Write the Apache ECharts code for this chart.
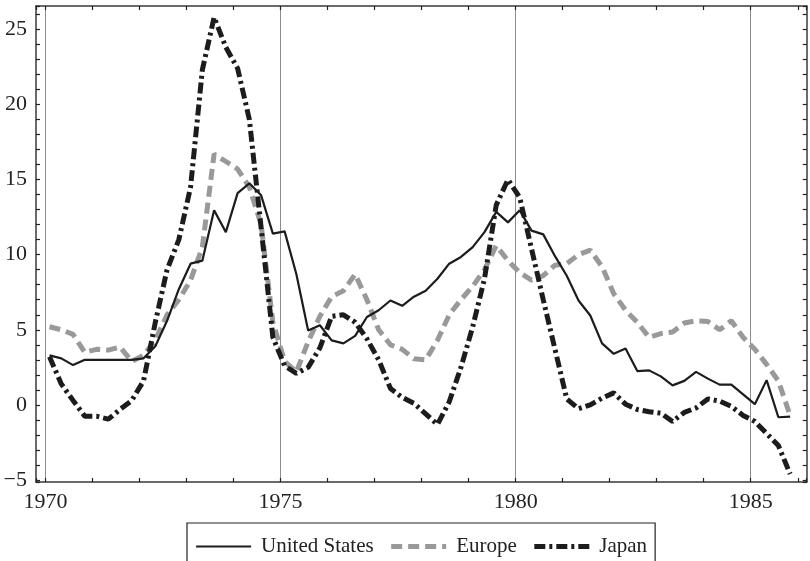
<!DOCTYPE html>
<html><head><meta charset="utf-8">
<script src="https://cdn.jsdelivr.net/npm/echarts@6/dist/echarts.min.js"></script>
<style>html,body{margin:0;padding:0;background:#fff}#c{width:810px;height:561px}</style>
</head><body><div id="c"></div>
<script>
// Quarterly data, 1970Q1 .. 1985Q4
const firstYear = 1970;
const quarterOffset = 0.35; // position of each quarterly observation within its quarter
const seriesNames = ['United States', 'Europe', 'Japan'];
const xTickLabels = [1970, 1975, 1980, 1985];
const yTickLabels = [-5, 0, 5, 10, 15, 20, 25];

const unitedStates = [
  3.3, 3.1, 2.65, 3.0, 3.0, 3.0, 3.0, 3.0, 3.1, 3.9,
  5.6, 7.7, 9.4, 9.6, 12.95, 11.5, 14.1, 14.75, 13.95, 11.4,
  11.55, 8.7, 4.95, 5.3, 4.3, 4.1, 4.6, 5.85, 6.3, 6.95,
  6.6, 7.2, 7.6, 8.4, 9.4, 9.85, 10.5, 11.5, 12.85, 12.15,
  12.95, 11.6, 11.35, 9.9, 8.6, 6.95, 5.95, 4.1, 3.4, 3.75,
  2.25, 2.3, 1.9, 1.3, 1.6, 2.2, 1.75, 1.35, 1.35, 0.7,
  0.05, 1.65, -0.82, -0.78
];
const europe = [
  5.2, 5.0, 4.7, 3.5, 3.7, 3.65, 3.85, 2.9, 3.3, 4.3,
  6.0, 7.0, 8.3, 10.5, 16.7, 16.2, 15.7, 14.5, 12.0, 5.5,
  2.9, 2.2, 4.2, 5.9, 7.2, 7.6, 8.7, 7.0, 5.0, 4.0,
  3.7, 3.07, 3.0, 4.3, 6.0, 7.0, 7.9, 9.0, 10.6, 9.6,
  8.8, 8.3, 8.6, 9.3, 9.4, 10.0, 10.3, 9.2, 7.4, 6.3,
  5.5, 4.5, 4.75, 4.85, 5.45, 5.6, 5.55, 5.0, 5.6, 4.5,
  3.7, 2.7, 1.6, -0.7
];
const japan = [
  3.2, 1.4, 0.3, -0.75, -0.75, -0.95, -0.3, 0.3, 1.6, 5.5,
  9.0, 11.0, 14.5, 22.3, 25.8, 23.8, 22.4, 19.0, 11.8, 4.5,
  2.6, 2.1, 2.5, 3.8, 5.9, 6.0, 5.5, 4.4, 3.0, 1.1,
  0.5, 0.1, -0.6, -1.3, 0.2, 2.5, 5.2, 8.4, 13.3, 15.0,
  13.8, 10.4, 7.0, 3.7, 0.4, -0.25, 0.0, 0.45, 0.8, 0.05,
  -0.3, -0.45, -0.55, -1.1, -0.5, -0.2, 0.4, 0.25, -0.1, -0.7,
  -1.1, -1.9, -2.7, -4.6
];

const toPairs = arr => arr.map((v, i) => [firstYear + (i + quarterOffset) / 4, v]);
const fontFamily = '"Liberation Serif", "Times New Roman", serif';

const tickStyle = {color: '#222', width: 1.2};
const frameStyle = {color: '#3a3a3a', width: 1.5};

function xAxisCfg(pos, showLabels, showSplit) {
  return {
    type: 'value', position: pos, min: 1969.8, max: 1986.19, splitNumber: 3,
    axisLine: {show: true, onZero: false, lineStyle: frameStyle},
    axisTick: {show: true, inside: true, length: 4, lineStyle: tickStyle},
    minorTick: {show: true, splitNumber: 5, length: 4, lineStyle: tickStyle},
    splitLine: {show: showSplit, showMinLine: false, showMaxLine: false, lineStyle: {color: '#8c8c8c', width: 1}},
    axisLabel: {
      show: showLabels, margin: 9, color: '#222', fontFamily, fontSize: 22,
      formatter: v => xTickLabels.indexOf(Math.round(v)) >= 0 && Math.abs(v - Math.round(v)) < 1e-6 ? String(Math.round(v)) : ''
    }
  };
}
function yAxisCfg(pos, showLabels) {
  return {
    type: 'value', position: pos, min: -5.13, max: 26.55, splitNumber: 6,
    axisLine: {show: true, onZero: false, lineStyle: frameStyle},
    axisTick: {show: true, inside: true, length: 4, lineStyle: tickStyle},
    minorTick: {show: true, splitNumber: 5, length: 4, lineStyle: tickStyle},
    splitLine: {show: false},
    axisLabel: {
      show: showLabels, margin: 9, color: '#222', fontFamily, fontSize: 22,
      formatter: v => {
        const r = Math.round(v);
        if (Math.abs(v - r) > 1e-6 || yTickLabels.indexOf(r) < 0) return '';
        return r < 0 ? '\u2212' + Math.abs(r) : String(r);
      }
    }
  };
}

const chart = echarts.init(document.getElementById('c'), null, {renderer: 'canvas'});
chart.setOption({
  animation: false,
  backgroundColor: '#fff',
  grid: {left: 36, right: 3.3, top: 6, bottom: 79, containLabel: false},
  xAxis: [xAxisCfg('bottom', true, true), xAxisCfg('top', false, false)],
  yAxis: [yAxisCfg('left', true), yAxisCfg('right', false)],
  legend: {
    left: 187, top: 523, orient: 'horizontal',
    itemWidth: 55, itemHeight: 14, itemGap: 15,
    padding: [13, 8, 20, 8],
    borderColor: '#222', borderWidth: 1.2,
    itemStyle: {opacity: 0},
    lineStyle: {width: 'inherit', type: 'inherit', cap: 'butt'},
    textStyle: {fontFamily, fontSize: 21, color: '#222', padding: [0, 0, 0, 5]},
    data: seriesNames
  },
  series: [
    {name: seriesNames[1], type: 'line', data: toPairs(europe), symbol: 'none', z: 2,
     itemStyle: {color: '#999999'},
     lineStyle: {color: '#999999', width: 5, type: [11, 6], cap: 'butt'}},
    {name: seriesNames[2], type: 'line', data: toPairs(japan), symbol: 'none', z: 3,
     itemStyle: {color: '#1c1c1c'},
     lineStyle: {color: '#1c1c1c', width: 5, type: [11, 4, 3, 4], cap: 'butt'}},
    {name: seriesNames[0], type: 'line', data: toPairs(unitedStates), symbol: 'none', z: 4,
     itemStyle: {color: '#1c1c1c'},
     lineStyle: {color: '#1c1c1c', width: 2.2}}
  ]
});
</script>
</body></html>
